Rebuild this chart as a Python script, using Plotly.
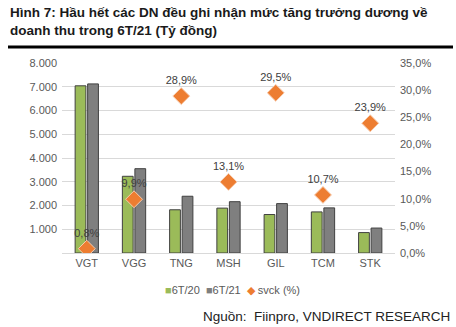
import plotly.graph_objects as go

categories = ["VGT", "VGG", "TNG", "MSH", "GIL", "TCM", "STK"]
rev_6t20 = [7040, 3230, 1820, 1890, 1620, 1730, 860]
rev_6t21 = [7120, 3550, 2390, 2160, 2080, 1900, 1050]
svck = [0.8, 9.9, 28.9, 13.1, 29.5, 10.7, 23.9]
svck_labels = ["0,8%", "9,9%", "28,9%", "13,1%", "29,5%", "10,7%", "23,9%"]
left_ticks = [0, 1000, 2000, 3000, 4000, 5000, 6000, 7000, 8000]
left_ticktext = ["", "1.000", "2.000", "3.000", "4.000", "5.000", "6.000", "7.000", "8.000"]
right_ticks = [0, 5, 10, 15, 20, 25, 30, 35]
right_ticktext = ["0,0%", "5,0%", "10,0%", "15,0%", "20,0%", "25,0%", "30,0%", "35,0%"]
series_names = ["6T/20", "6T/21", "svck (%)"]
series_colors = ["#9BBB59", "#7F7F7F", "#ED7D31"]

FONT = "Liberation Sans, Arial, sans-serif"

fig = go.Figure()
fig.add_trace(go.Bar(x=categories, y=rev_6t20, name=series_names[0], showlegend=False,
                     marker=dict(color=series_colors[0], line=dict(color="#404040", width=1))))
fig.add_trace(go.Bar(x=categories, y=rev_6t21, name=series_names[1], showlegend=False,
                     marker=dict(color=series_colors[1], line=dict(color="#404040", width=1))))
fig.add_trace(go.Scatter(x=categories, y=svck, name=series_names[2], yaxis="y2", showlegend=False,
                         mode="markers+text", text=svck_labels, textposition="top center",
                         textfont=dict(size=11, color="#404040", family=FONT),
                         marker=dict(symbol="diamond", size=13, color=series_colors[2],
                                     line=dict(color="#F8CBAD", width=1))))

legend_text = (
    f'<span style="color:{series_colors[0]}">■</span>{series_names[0]}  '
    f'<span style="color:{series_colors[1]}">■</span>{series_names[1]}  '
    f'<span style="color:{series_colors[2]}">◆</span> {series_names[2]}'
)

fig.update_layout(
    width=456, height=327,
    margin=dict(l=62, r=61, t=63, b=74),
    paper_bgcolor="white", plot_bgcolor="white",
    font=dict(family=FONT, size=11, color="#595959"),
    barmode="group", bargap=0.47, bargroupgap=0.14,
    showlegend=False,
    xaxis=dict(showgrid=False, showline=True, linecolor="#D9D9D9", linewidth=1,
               tickfont=dict(size=11, color="#595959"), ticks=""),
    yaxis=dict(range=[0, 8000], tickvals=left_ticks, ticktext=left_ticktext,
               showgrid=True, gridcolor="#D9D9D9", gridwidth=1, zeroline=False,
               ticks="", ticklabelstandoff=4, tickfont=dict(size=11, color="#595959")),
    yaxis2=dict(range=[0, 35], tickvals=right_ticks, ticktext=right_ticktext,
                overlaying="y", side="right", showgrid=False, zeroline=False,
                ticks="", ticklabelstandoff=4, tickfont=dict(size=11, color="#595959")),
    annotations=[
        dict(text="<b>Hình 7: Hầu hết các DN đều ghi nhận mức tăng trưởng dương về<br>doanh thu trong 6T/21 (Tỷ đồng)</b>",
             xref="paper", yref="paper", x=(8 - 62) / 333, y=1 + (63 - 3) / 190,
             xanchor="left", yanchor="top", align="left", showarrow=False,
             font=dict(size=13.5, color="#1a1a1a", family=FONT)),
        dict(text=legend_text,
             xref="paper", yref="paper", x=(232 - 62) / 333, y=-(290 - 253) / 190,
             xanchor="center", yanchor="middle", showarrow=False,
             font=dict(size=11, color="#595959", family=FONT)),
        dict(text="Nguồn:  Fiinpro, VNDIRECT RESEARCH",
             xref="paper", yref="paper", x=(452 - 62) / 333, y=-(316 - 253) / 190,
             xanchor="right", yanchor="middle", showarrow=False,
             font=dict(size=13.5, color="#222222", family=FONT)),
    ],
    shapes=[dict(type="line", xref="paper", yref="paper",
                 x0=(8 - 62) / 333, x1=(453 - 62) / 333,
                 y0=1 + (63 - 47) / 190, y1=1 + (63 - 47) / 190,
                 line=dict(color="black", width=3))],
)

fig.write_html("out.html")
